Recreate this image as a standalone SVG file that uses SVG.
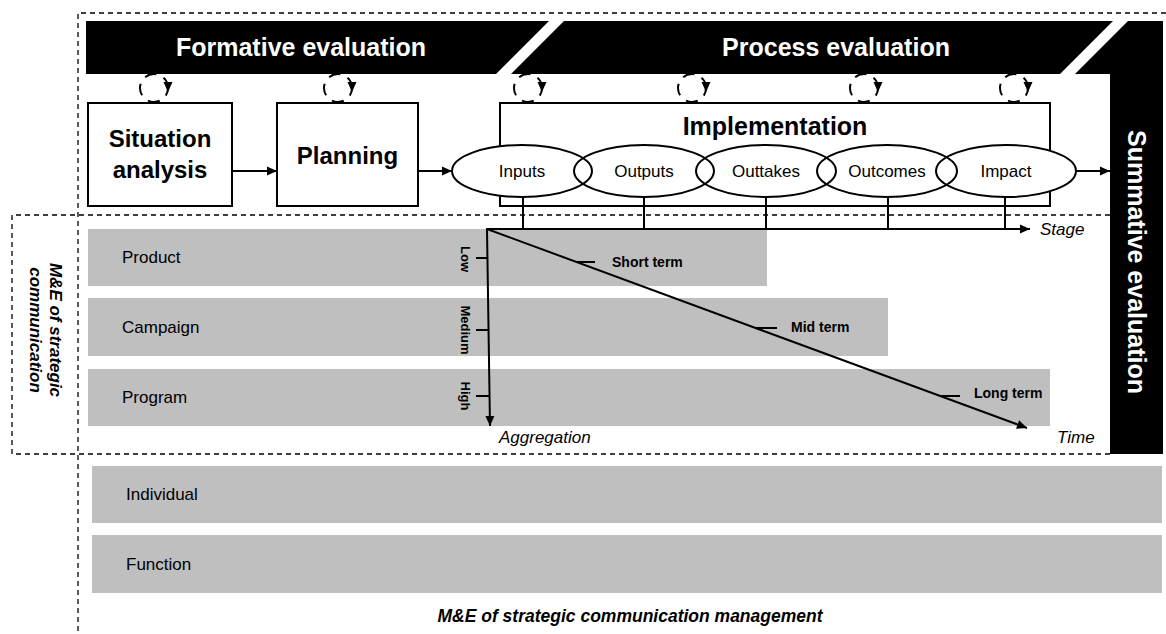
<svg xmlns="http://www.w3.org/2000/svg" width="1166" height="634" viewBox="0 0 1166 634">
  <style>
    .t { font-family: "Liberation Sans", Arial, sans-serif; fill: #000; }
    .b { font-weight: bold; }
    .i { font-style: italic; }
    .w { fill: #fff; }
    .band { fill: #bfbfbf; }
    .box { fill: #fff; stroke: #000; stroke-width: 2; }
    .ln { fill: none; stroke: #000; stroke-width: 2; }
    .dash { fill: none; stroke: #000; stroke-width: 1.3; stroke-dasharray: 5 4; }
  </style>
  <defs>
    <marker id="ah" viewBox="0 0 10 10" refX="10" refY="5" markerWidth="11" markerHeight="10" markerUnits="userSpaceOnUse" orient="auto">
      <path d="M0,0.5 L10,5 L0,9.5 Z" fill="#000"/>
    </marker>
    <!-- small dashed feedback loop placed above each stage -->
    <g id="loop">
      <circle r="14" fill="none" stroke="#000" stroke-width="2" stroke-dasharray="12 8" stroke-dashoffset="4"/>
      <path d="M9.5,-6 L18.5,-6 L14,4 Z" fill="#000"/>
    </g>
  </defs>

  <rect width="1166" height="634" fill="#fff"/>

  <!-- dashed frames -->
  <g id="frames">
    <path class="dash" d="M1166,13 H78 V634"/>
    <path class="dash" d="M1110,215 H12 V454 H1110"/>
  </g>

  <!-- evaluation banners -->
  <g id="formative">
    <polygon points="86,21 549,21 496,74 86,74" fill="#000"/>
    <text class="t b w" x="301" y="56" font-size="25" text-anchor="middle">Formative evaluation</text>
  </g>
  <g id="process">
    <polygon points="564,21 1113,21 1060,74 511,74" fill="#000"/>
    <text class="t b w" x="836" y="56" font-size="25" text-anchor="middle">Process evaluation</text>
  </g>
  <g id="summative">
    <polygon points="1128,21 1163,21 1163,454 1110,454 1110,74 1075,74" fill="#000"/>
    <text class="t b w" font-size="25" text-anchor="middle" dominant-baseline="central" transform="translate(1137,262) rotate(90)">Summative evaluation</text>
  </g>

  <!-- feedback loops -->
  <g id="loops">
    <use href="#loop" x="154" y="88"/>
    <use href="#loop" x="338" y="88"/>
    <use href="#loop" x="528" y="88"/>
    <use href="#loop" x="692" y="88"/>
    <use href="#loop" x="864" y="88"/>
    <use href="#loop" x="1014" y="88"/>
  </g>

  <!-- level bands -->
  <g id="bands">
    <g id="product">
      <rect class="band" x="88" y="229" width="679" height="57"/>
      <text class="t" x="122" y="263" font-size="17">Product</text>
    </g>
    <g id="campaign">
      <rect class="band" x="88" y="298" width="800" height="58"/>
      <text class="t" x="122" y="333" font-size="17">Campaign</text>
    </g>
    <g id="program">
      <rect class="band" x="88" y="369" width="962" height="57"/>
      <text class="t" x="122" y="403" font-size="17">Program</text>
    </g>
    <g id="individual">
      <rect class="band" x="92" y="466" width="1070" height="57"/>
      <text class="t" x="126" y="500" font-size="17">Individual</text>
    </g>
    <g id="function">
      <rect class="band" x="92" y="535" width="1070" height="58"/>
      <text class="t" x="126" y="570" font-size="17">Function</text>
    </g>
  </g>

  <!-- stage boxes -->
  <g id="situation">
    <rect class="box" x="88" y="103" width="144" height="103"/>
    <text class="t b" x="160" y="147" font-size="24" text-anchor="middle">Situation</text>
    <text class="t b" x="160" y="178" font-size="24" text-anchor="middle">analysis</text>
  </g>
  <g id="planning">
    <rect class="box" x="277" y="103" width="141" height="103"/>
    <text class="t b" x="347.5" y="164" font-size="24" text-anchor="middle">Planning</text>
  </g>
  <g id="implementation">
    <rect class="box" x="500" y="103" width="550" height="103"/>
    <text class="t b" x="775" y="135" font-size="25" text-anchor="middle">Implementation</text>
    <!-- white fills first so every outline stays visible where ellipses overlap -->
    <g fill="#fff">
      <ellipse cx="522" cy="171" rx="70" ry="26"/>
      <ellipse cx="644" cy="171" rx="70" ry="26"/>
      <ellipse cx="766" cy="171" rx="70" ry="26"/>
      <ellipse cx="887" cy="171" rx="70" ry="26"/>
      <ellipse cx="1006" cy="171" rx="70" ry="26"/>
    </g>
    <g class="ln">
      <ellipse id="inputs" cx="522" cy="171" rx="70" ry="26"/>
      <ellipse id="outputs" cx="644" cy="171" rx="70" ry="26"/>
      <ellipse id="outtakes" cx="766" cy="171" rx="70" ry="26"/>
      <ellipse id="outcomes" cx="887" cy="171" rx="70" ry="26"/>
      <ellipse id="impact" cx="1006" cy="171" rx="70" ry="26"/>
    </g>
    <g font-size="17" text-anchor="middle">
      <text class="t" x="522" y="177">Inputs</text>
      <text class="t" x="644" y="177">Outputs</text>
      <text class="t" x="766" y="177">Outtakes</text>
      <text class="t" x="887" y="177">Outcomes</text>
      <text class="t" x="1006" y="177">Impact</text>
    </g>
  </g>

  <!-- connectors and axes -->
  <g id="connectors">
    <line class="ln" x1="232" y1="171" x2="277" y2="171" marker-end="url(#ah)"/>
    <line class="ln" x1="418" y1="171" x2="452" y2="171" marker-end="url(#ah)"/>
    <line class="ln" x1="1076" y1="171" x2="1110" y2="171" marker-end="url(#ah)"/>
    <!-- stage drops -->
    <path class="ln" d="M523,197 V229 M644,197 V229 M766,197 V229 M888,197 V229 M1005,197 V229"/>
    <!-- stage axis -->
    <line class="ln" x1="486" y1="229" x2="1030" y2="229" marker-end="url(#ah)"/>
    <!-- aggregation axis -->
    <line class="ln" x1="487" y1="229" x2="490" y2="426" marker-end="url(#ah)"/>
    <path class="ln" d="M476,258 H488 M476,330 H489 M476,396 H490"/>
    <!-- time axis -->
    <line class="ln" x1="487" y1="229" x2="1027" y2="428" marker-end="url(#ah)"/>
    <path class="ln" d="M577,262 H595 M755,328 H777 M940,396 H960"/>
  </g>

  <!-- axis labels -->
  <g id="axis-labels">
    <text class="t i" x="1040" y="235" font-size="17">Stage</text>
    <text class="t i" x="499" y="443" font-size="17">Aggregation</text>
    <text class="t i" x="1057" y="443" font-size="17">Time</text>
    <text class="t b" x="612" y="267" font-size="14">Short term</text>
    <text class="t b" x="791" y="332" font-size="14">Mid term</text>
    <text class="t b" x="974" y="398" font-size="14">Long term</text>
    <g font-size="13" text-anchor="middle" dominant-baseline="central">
      <text class="t b" transform="translate(465,259) rotate(90)">Low</text>
      <text class="t b" transform="translate(465,330) rotate(90)">Medium</text>
      <text class="t b" transform="translate(465,396) rotate(90)">High</text>
    </g>
  </g>

  <!-- scope captions -->
  <g id="captions">
    <g class="t b i" font-size="17" text-anchor="middle">
      <text transform="translate(50,330) rotate(90)">M&amp;E of strategic</text>
      <text transform="translate(30,330) rotate(90)">communication</text>
    </g>
    <text class="t b i" x="630" y="622" font-size="17.5" text-anchor="middle">M&amp;E of strategic communication management</text>
  </g>
</svg>
